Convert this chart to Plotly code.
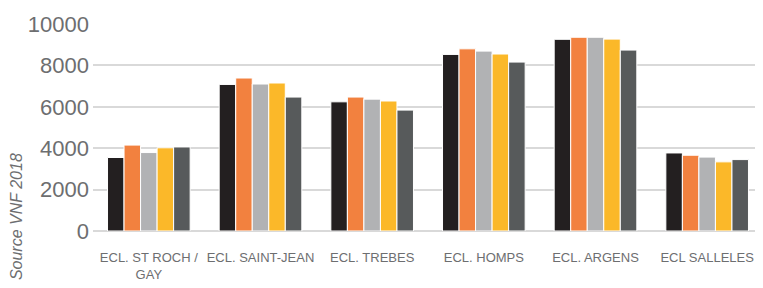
import plotly.graph_objects as go

categories = ["ECL. ST ROCH /<br>GAY", "ECL. SAINT-JEAN", "ECL. TREBES", "ECL. HOMPS", "ECL. ARGENS", "ECL SALLELES"]
series_names = ["S1", "S2", "S3", "S4", "S5"]
s1 = [3550, 7080, 6240, 8530, 9260, 3770]
s2 = [4150, 7390, 6470, 8800, 9360, 3660]
s3 = [3790, 7100, 6370, 8690, 9360, 3570]
s4 = [4020, 7150, 6280, 8550, 9270, 3340]
s5 = [4060, 6470, 5840, 8160, 8740, 3450]
colors = ["#231F20", "#F2813F", "#B1B2B4", "#FBB829", "#575A5B"]
yticks = [0, 2000, 4000, 6000, 8000, 10000]
ytick_labels = ["0", "2000", "4000", "6000", "8000", "10000"]

font_family = "Liberation Sans, Arial, sans-serif"

fig = go.Figure()
for name, vals, col in zip(series_names, [s1, s2, s3, s4, s5], colors):
    fig.add_trace(go.Bar(x=categories, y=vals, name=name,
                         marker=dict(color=col, line=dict(color="white", width=1))))

# page body has an 8px margin, so the figure is sized/offset to compensate
fig.update_layout(
    template="none",
    width=755, height=280,
    margin=dict(l=85, r=0, t=16, b=57, pad=0),
    paper_bgcolor="white", plot_bgcolor="white",
    barmode="group", bargap=0.26, bargroupgap=0.0,
    showlegend=False,
    font=dict(family=font_family, color="#6D6E70"),
)
fig.update_yaxes(range=[0, 10000], tickvals=yticks, ticktext=ytick_labels, automargin=False,
                 showgrid=True, gridcolor="#D9D9D9", gridwidth=2,
                 zeroline=True, zerolinecolor="#D9D9D9", zerolinewidth=2, showline=False,
                 tickfont=dict(size=22, color="#6D6E70"), ticks="", ticklabelstandoff=3)
fig.update_xaxes(automargin=False, showgrid=False, showline=False, zeroline=False, tickangle=0,
                 tickfont=dict(size=13, color="#6D6E70"), ticks="", ticklabelstandoff=17)

fig.add_annotation(text="Source VNF 2018", textangle=-90, xref="paper", yref="paper",
                   x=-0.113, y=0.385, xanchor="center", yanchor="top", showarrow=False,
                   font=dict(size=16, color="#6D6E70", family="Liberation Sans, sans-serif", style="italic"))

fig.write_html("out.html")
